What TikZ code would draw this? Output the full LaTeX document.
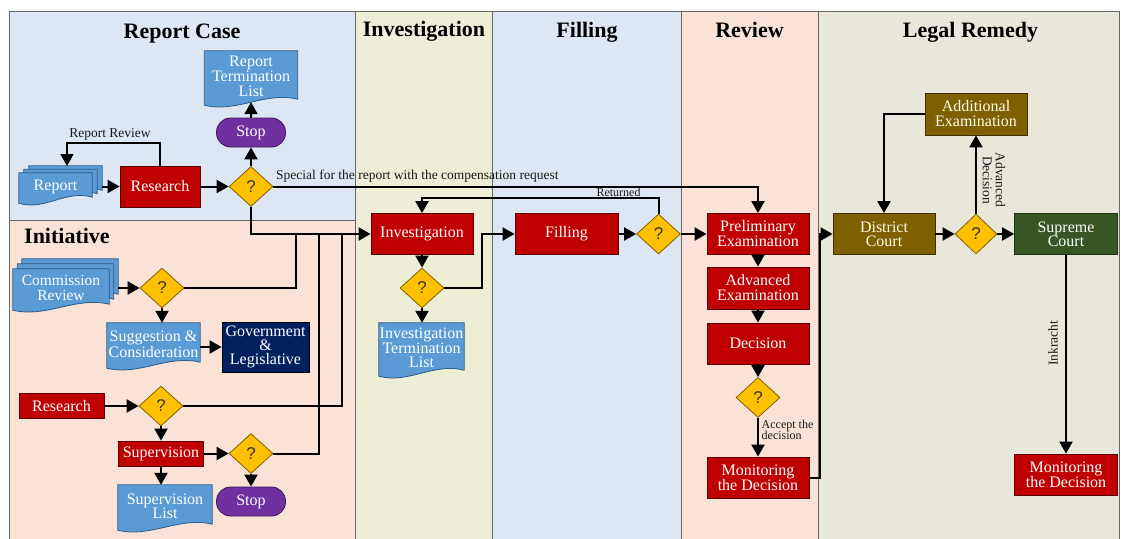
\documentclass[tikz,border=0pt]{standalone}
\usepackage{fontspec}
\setmainfont{Liberation Serif}
\newfontfamily\qfont{Liberation Sans}
\usetikzlibrary{shapes.geometric,arrows.meta,calc}
\pgfdeclarelayer{bg}
\pgfsetlayers{bg,main}
\definecolor{lblue}{HTML}{DDE7F3}
\definecolor{lpeach}{HTML}{FBE2D6}
\definecolor{lolive}{HTML}{EEEDD5}
\definecolor{lgrey}{HTML}{E9E6DA}
\definecolor{cdoc}{HTML}{5B9BD5}
\definecolor{cdocb}{HTML}{2E5C8A}
\definecolor{cred}{HTML}{C00000}
\definecolor{credb}{HTML}{5A0000}
\definecolor{cgold}{HTML}{FFC000}
\definecolor{cgoldb}{HTML}{7F6000}
\definecolor{cpurple}{HTML}{7030A0}
\definecolor{cpurpleb}{HTML}{3F1A5C}
\definecolor{cnavy}{HTML}{002060}
\definecolor{colive}{HTML}{7F6000}
\definecolor{coliveb}{HTML}{3F3000}
\definecolor{cgreen}{HTML}{375623}
\definecolor{cgreenb}{HTML}{1F3314}
\newcommand\nf{\fontsize{16}{15}\selectfont}
\newcommand\nfs{\fontsize{16}{14}\selectfont}
\newcommand\nfc{\fontsize{15.5}{15}\selectfont}
\newcommand{\docshape}[3]{%
 \path[docfill] ($(#1.north west)+(#2,#3)$) -- ($(#1.north east)+(#2,#3)$) -- ($(#1.south east)+(#2,#3-3)$) .. controls ($(#1.south east)!0.35!(#1.south west)+(#2,#3-11)$) and ($(#1.south east)!0.65!(#1.south west)+(#2,#3+11)$) .. ($(#1.south west)+(#2,#3+3)$) -- cycle;}
\begin{document}
\begin{tikzpicture}[x=1pt,y=-1pt,
  lane/.style={draw=black!60,line width=0.9pt},
  ttl/.style={font=\fontsize{22}{22}\selectfont\bfseries,inner sep=0pt,anchor=base},
  blk/.style={rectangle,line width=0.8pt,text=white,font=\nf,align=center,inner sep=0pt,minimum width=102pt,minimum height=41pt},
  redbox/.style={blk,fill=cred,draw=credb},
  olivebox/.style={blk,fill=colive,draw=coliveb,text=white!92!yellow},
  greenbox/.style={blk,fill=cgreen,draw=cgreenb},
  navybox/.style={blk,fill=cnavy,draw=black},
  docn/.style={rectangle,inner sep=0pt,text=white,font=\nf,align=center},
  docfill/.style={fill=cdoc,draw=cdocb,line width=0.8pt},
  dia/.style={diamond,aspect=1.1,fill=cgold,draw=cgoldb,line width=0.8pt,minimum width=44pt,minimum height=40pt,inner sep=0pt,font=\qfont\fontsize{17}{17}\selectfont,text=black!80},
  stopn/.style={rectangle,rounded corners=14pt,fill=cpurple,draw=cpurpleb,line width=0.8pt,minimum width=69pt,minimum height=29pt,inner sep=0pt,text=white,font=\nf},
  conn/.style={line width=2pt,-{Triangle[width=13pt,length=12pt]}},
  plain/.style={line width=2pt},
  lbl/.style={font=\fontsize{13.5}{13}\selectfont,inner sep=0pt,text=black!90},
  lbls/.style={font=\fontsize{12}{11.5}\selectfont,inner sep=0pt,text=black!90}
]
\useasboundingbox (0,0) rectangle (1121,538);
\begin{pgfonlayer}{bg}
\fill[white] (0,0) rectangle (1121,538);
\fill[lblue] (9,11) rectangle (355,220);
\fill[lpeach] (9,220) rectangle (355,545);
\fill[lolive] (355,11) rectangle (492,545);
\fill[lblue] (492,11) rectangle (681,545);
\fill[lpeach] (681,11) rectangle (818,545);
\fill[lgrey] (818,11) rectangle (1119,545);
\draw[lane] (9,545) -- (9,11) -- (1119,11) -- (1119,545);
\draw[lane] (355,11) -- (355,545);
\draw[lane] (492,11) -- (492,545);
\draw[lane] (681,11) -- (681,545);
\draw[lane] (818,11) -- (818,545);
\draw[lane] (9,220) -- (355,220);
\end{pgfonlayer}

% titles
\node[ttl] (t1) at (182,38) {Report Case};
\node[ttl,anchor=base west] (t2) at (24,243.5) {Initiative};
\node[ttl] (t3) at (424,36) {Investigation};
\node[ttl] (t4) at (587,37.5) {Filling};
\node[ttl] (t5) at (749.5,37.5) {Review};
\node[ttl] (t6) at (970.5,37.5) {Legal Remedy};

% Report case
\node[docn,minimum width=73pt,minimum height=27pt] (rep) at (55.5,186.5) {Report};
\node[redbox,minimum width=80pt] (res1) at (160,186.5) {Research};
\node[dia] (d1) at (251,186.5) {?};
\node[stopn] (stop1) at (251,132.5) {Stop};
\node[docn,minimum width=93pt,minimum height=51pt] (rtl) at (251,76.5) {Report\\Termination\\List};
\coordinate (reptop) at (67,166);

% Initiative
\node[docn,minimum width=96pt,minimum height=38pt,font=\nfc] (cr) at (61,288) {Commission\\Review};
\node[dia] (d2) at (162,288) {?};
\node[docn,minimum width=93pt,minimum height=42pt,font=\fontsize{16}{14}\selectfont] (sc) at (153.5,344) {Suggestion \&\\Consideration};
\node[navybox,minimum width=87pt,minimum height=50pt,font=\fontsize{16}{14.3}\selectfont] (gl) at (265.5,347) {Government\\\&\\Legislative};
\node[redbox,minimum width=85pt,minimum height=25pt] (res2) at (61.5,406) {Research};
\node[dia] (d3) at (161,406) {?};
\node[redbox,minimum width=85pt,minimum height=25pt] (sup) at (161,453.5) {Supervision};
\node[dia] (d4) at (251,453.5) {?};
\node[stopn] (stop2) at (251,501.5) {Stop};
\node[docn,minimum width=94pt,minimum height=42pt,font=\fontsize{16}{14}\selectfont] (supl) at (165,506) {Supervision\\List};
\coordinate (j1) at (296,234);
\coordinate (j2) at (319,234);
\coordinate (j3) at (342,234);

% Investigation / Filling
\node[redbox] (inv) at (422,234) {Investigation};
\node[dia] (d5) at (422,288) {?};
\node[docn,minimum width=85pt,minimum height=50pt,font=\fontsize{16}{14.5}\selectfont] (itl) at (421.5,348) {Investigation\\Termination\\List};
\node[redbox,minimum width=103pt] (fill) at (566.5,234) {Filling};
\node[dia] (fd) at (658.5,234) {?};

% Review
\node[redbox,font=\nfs] (pe) at (758,234) {Preliminary\\Examination};
\node[redbox,minimum height=42pt] (ae) at (758,288) {Advanced\\Examination};
\node[redbox] (dec) at (758,343.5) {Decision};
\node[dia] (d6) at (758,397.5) {?};
\node[redbox] (mon1) at (758,477.5) {Monitoring\\the Decision};

% Legal remedy
\node[olivebox,font=\nfs] (dc) at (884,234) {District\\Court};
\node[dia,minimum width=42pt] (d7) at (976,234) {?};
\node[greenbox,minimum width=103pt,font=\nfs] (sc2) at (1066,234) {Supreme\\Court};
\node[olivebox,minimum height=42pt] (ade) at (976,114) {Additional\\Examination};
\node[redbox,minimum width=103pt] (mon2) at (1066,474.5) {Monitoring\\the Decision};

% document shapes
\begin{pgfonlayer}{bg}
\docshape{rep}{10}{-7}
\docshape{rep}{5}{-3.5}
\docshape{rep}{0}{0}
\docshape{rtl}{0}{0}
\docshape{cr}{9}{-10}
\docshape{cr}{4.5}{-5}
\docshape{cr}{0}{0}
\docshape{sc}{0}{0}
\docshape{supl}{0}{0}
\docshape{itl}{0}{0}
\end{pgfonlayer}

% connectors: report case
\draw[conn] ([xshift=10pt]rep.east) -- (res1.west);
\draw[conn] (res1.east) -- (d1.west);
\draw[conn] (d1.north) -- (stop1.south);
\draw[conn] (stop1.north) -- (rtl.south);
\draw[conn] (res1.north) -- ++(0,-23) -| (reptop);
\node[lbl] (lrr) at (110,134.5) {Report Review};
\draw[conn] (d1.east) -| (pe.north);
\node[lbl,anchor=south west] (lsp) at (276,183) {Special for the report with the compensation request};
\draw[conn] (d1.south) |- (inv.west);

% initiative
\draw[conn] ([xshift=9pt]cr.east |- d2.west) -- (d2.west);
\draw[plain] (d2.east) -| (j1);
\draw[conn] (d2.south) -- (d2.south |- sc.north);
\draw[conn] (sc.east |- gl.west) -- (gl.west);
\draw[conn] (res2.east) -- (d3.west);
\draw[plain] (d3.east) -| (j3);
\draw[conn] (d3.south) -- (sup.north);
\draw[conn] (sup.east) -- (d4.west);
\draw[plain] (d4.east) -| (j2);
\draw[conn] (d4.south) -- (stop2.north);
\draw[conn] (sup.south) -- (sup.south |- supl.north);

% investigation / filling
\draw[conn] (inv.south) -- (d5.north);
\draw[conn] (d5.south) -- (d5.south |- itl.north);
\draw[conn] (d5.east) -| ([xshift=-33pt]fill.west) -- (fill.west);
\draw[conn] (fill.east) -- (fd.west);
\draw[conn] (fd.north) -- ++(0,-16) -| (inv.north);
\node[lbls] (lret) at (618.5,192) {Returned};
\draw[conn] (fd.east) -- (pe.west);

% review
\draw[conn] (pe.south) -- (ae.north);
\draw[conn] (ae.south) -- (dec.north);
\draw[conn] (dec.south) -- (d6.north);
\draw[conn] (d6.south) -- (mon1.north);
\node[lbls,anchor=west,align=left] (lacc) at (761.5,430) {Accept the\\decision};
\draw[conn] (mon1.east) -| ([xshift=-13pt]dc.west) -- (dc.west);

% legal remedy
\draw[conn] (dc.east) -- (d7.west);
\draw[conn] (d7.east) -- (sc2.west);
\draw[conn] (d7.north) -- (ade.south);
\node[lbl,rotate=-90,align=center] (ladv) at (994,180) {Advanced\\Decision};
\draw[conn] (ade.west) -| (dc.north);
\draw[conn] (sc2.south) -- (mon2.north);
\node[lbl,rotate=90] (link) at (1053,343.5) {Inkracht};
\end{tikzpicture}
\end{document}
